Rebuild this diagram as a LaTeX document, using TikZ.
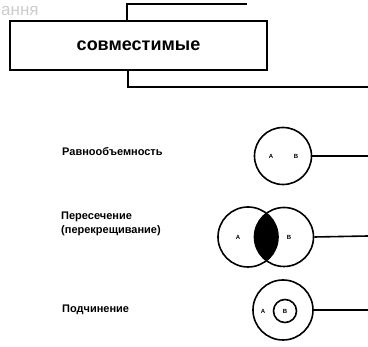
\documentclass[tikz,border=0pt]{standalone}
\usepackage{fontspec}
\setmainfont{Liberation Sans}
\usetikzlibrary{positioning,calc}
\begin{document}
\begin{tikzpicture}[x=1pt,y=-1pt]
\tikzstyle{frame} = [rectangle, draw=black, line width=1.6pt, minimum width=257pt, minimum height=49pt, inner sep=0pt, font=\fontsize{18}{20}\selectfont\bfseries]
\tikzstyle{kind} = [align=left, anchor=west, inner sep=0pt, font=\fontsize{11}{14}\selectfont\bfseries]
\tikzstyle{ring} = [circle, draw=black, line width=1.6pt, inner sep=0pt]
\tikzstyle{letter} = [inner sep=0pt, font=\fontsize{6}{7}\selectfont\bfseries]
\tikzstyle{link} = [line width=1.6pt]

\useasboundingbox (0,0) rectangle (368,347);
\node (mark) [anchor=west, inner sep=0pt, text=black!20, font=\fontsize{17}{19}\selectfont] at (1,11) {ання};
\node (compat) [frame] at (138.5,45.5) {совместимые};

\coordinate (topbend) at (127,4);
\coordinate (topend) at (247,4);
\coordinate (botbend) at (128,87);
\coordinate (botend) at (368,87);
\draw [link] (topbend |- compat.north) -- (topbend) -- (topend);
\draw [link] (botbend |- compat.south) -- (botbend) -- (botend);

\node (eqlabel) [kind] at (62,152) {Равнообъемность};
\node (crlabel) [kind] at (61,224) {Пересечение\\(перекрещивание)};
\node (sublabel) [kind] at (62,310) {Подчинение};

\node (equal) [ring, minimum size=57pt] at (283,156) {};
\node (eqA) [letter] at (271,156) {А};
\node (eqB) [letter] at (296,156) {В};
\coordinate (eqend) at (368,156);
\draw [link] (equal.east) -- (eqend);

\begin{scope}
\clip (248,237) circle (30);
\fill (284,237) circle (29.5);
\end{scope}
\node (crossA) [ring, minimum size=60pt] at (248,237) {};
\node (crossB) [ring, minimum size=59pt] at (284,237) {};
\node (crA) [letter] at (238,237) {А};
\node (crB) [letter] at (289,237) {В};
\coordinate (crend) at (368,236);
\draw [link] (crossB.east) -- (crend);

\node (sub) [ring, minimum size=60pt] at (283,310) {};
\node (subin) [ring, minimum size=23pt] at (285,311) {};
\node (subA) [letter] at (263,311) {А};
\node (subB) [letter] at (285,311) {В};
\coordinate (subend) at (368,310);
\draw [link] (sub.east) -- (subend);
\end{tikzpicture}
\end{document}
